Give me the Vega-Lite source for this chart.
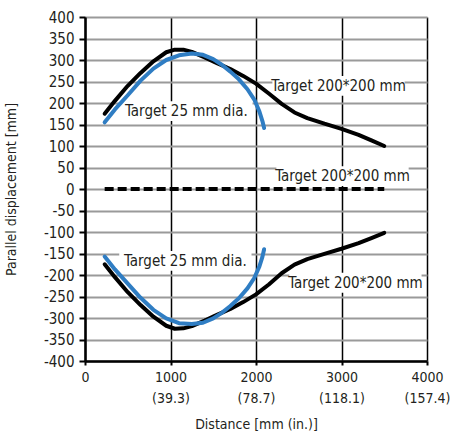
{
  "$schema": "https://vega.github.io/schema/vega-lite/v6.json",
  "width": 342,
  "height": 344,
  "padding": {"left": 4, "top": 10, "right": 0, "bottom": 0},
  "background": "white",
  "config": {
    "font": "DejaVu Sans Condensed, sans-serif",
    "view": {"stroke": null},
    "axis": {"labelFont": "DejaVu Sans Condensed, sans-serif", "titleFont": "DejaVu Sans Condensed, sans-serif", "labelFontSize": 15, "titleFontSize": 14, "labelColor": "#231f20", "titleColor": "#231f20", "titleFontWeight": "normal"}
  },
  "datasets": {
    "curves": [
      {"curve": "black_up", "o": 1, "x": 230, "y": 175},
      {"curve": "black_up", "o": 2, "x": 350, "y": 205},
      {"curve": "black_up", "o": 3, "x": 500, "y": 240},
      {"curve": "black_up", "o": 4, "x": 650, "y": 270},
      {"curve": "black_up", "o": 5, "x": 800, "y": 297},
      {"curve": "black_up", "o": 6, "x": 950, "y": 318},
      {"curve": "black_up", "o": 7, "x": 1050, "y": 324},
      {"curve": "black_up", "o": 8, "x": 1150, "y": 324},
      {"curve": "black_up", "o": 9, "x": 1250, "y": 319},
      {"curve": "black_up", "o": 10, "x": 1400, "y": 306},
      {"curve": "black_up", "o": 11, "x": 1550, "y": 292},
      {"curve": "black_up", "o": 12, "x": 1700, "y": 279},
      {"curve": "black_up", "o": 13, "x": 1850, "y": 263},
      {"curve": "black_up", "o": 14, "x": 2000, "y": 245},
      {"curve": "black_up", "o": 15, "x": 2150, "y": 222},
      {"curve": "black_up", "o": 16, "x": 2300, "y": 198},
      {"curve": "black_up", "o": 17, "x": 2450, "y": 178},
      {"curve": "black_up", "o": 18, "x": 2600, "y": 165},
      {"curve": "black_up", "o": 19, "x": 2800, "y": 152},
      {"curve": "black_up", "o": 20, "x": 3000, "y": 140},
      {"curve": "black_up", "o": 21, "x": 3200, "y": 126},
      {"curve": "black_up", "o": 22, "x": 3350, "y": 113},
      {"curve": "black_up", "o": 23, "x": 3500, "y": 100},
      {"curve": "black_dn", "o": 1, "x": 230, "y": -175},
      {"curve": "black_dn", "o": 2, "x": 350, "y": -205},
      {"curve": "black_dn", "o": 3, "x": 500, "y": -240},
      {"curve": "black_dn", "o": 4, "x": 650, "y": -270},
      {"curve": "black_dn", "o": 5, "x": 800, "y": -297},
      {"curve": "black_dn", "o": 6, "x": 950, "y": -318},
      {"curve": "black_dn", "o": 7, "x": 1050, "y": -325},
      {"curve": "black_dn", "o": 8, "x": 1150, "y": -324},
      {"curve": "black_dn", "o": 9, "x": 1250, "y": -319},
      {"curve": "black_dn", "o": 10, "x": 1400, "y": -306},
      {"curve": "black_dn", "o": 11, "x": 1550, "y": -292},
      {"curve": "black_dn", "o": 12, "x": 1700, "y": -279},
      {"curve": "black_dn", "o": 13, "x": 1850, "y": -263},
      {"curve": "black_dn", "o": 14, "x": 2000, "y": -245},
      {"curve": "black_dn", "o": 15, "x": 2150, "y": -222},
      {"curve": "black_dn", "o": 16, "x": 2300, "y": -196},
      {"curve": "black_dn", "o": 17, "x": 2450, "y": -176},
      {"curve": "black_dn", "o": 18, "x": 2600, "y": -163},
      {"curve": "black_dn", "o": 19, "x": 2800, "y": -151},
      {"curve": "black_dn", "o": 20, "x": 3000, "y": -139},
      {"curve": "black_dn", "o": 21, "x": 3200, "y": -126},
      {"curve": "black_dn", "o": 22, "x": 3350, "y": -114},
      {"curve": "black_dn", "o": 23, "x": 3500, "y": -102},
      {"curve": "blue_up", "o": 1, "x": 230, "y": 155},
      {"curve": "blue_up", "o": 2, "x": 350, "y": 185},
      {"curve": "blue_up", "o": 3, "x": 500, "y": 218},
      {"curve": "blue_up", "o": 4, "x": 650, "y": 252},
      {"curve": "blue_up", "o": 5, "x": 800, "y": 280},
      {"curve": "blue_up", "o": 6, "x": 950, "y": 300},
      {"curve": "blue_up", "o": 7, "x": 1100, "y": 311},
      {"curve": "blue_up", "o": 8, "x": 1250, "y": 315},
      {"curve": "blue_up", "o": 9, "x": 1380, "y": 312},
      {"curve": "blue_up", "o": 10, "x": 1500, "y": 302},
      {"curve": "blue_up", "o": 11, "x": 1600, "y": 289},
      {"curve": "blue_up", "o": 12, "x": 1700, "y": 273},
      {"curve": "blue_up", "o": 13, "x": 1800, "y": 255},
      {"curve": "blue_up", "o": 14, "x": 1900, "y": 232},
      {"curve": "blue_up", "o": 15, "x": 1980, "y": 208},
      {"curve": "blue_up", "o": 16, "x": 2040, "y": 180},
      {"curve": "blue_up", "o": 17, "x": 2075, "y": 158},
      {"curve": "blue_up", "o": 18, "x": 2095, "y": 142},
      {"curve": "blue_dn", "o": 1, "x": 230, "y": -157},
      {"curve": "blue_dn", "o": 2, "x": 350, "y": -187},
      {"curve": "blue_dn", "o": 3, "x": 500, "y": -220},
      {"curve": "blue_dn", "o": 4, "x": 650, "y": -253},
      {"curve": "blue_dn", "o": 5, "x": 800, "y": -281},
      {"curve": "blue_dn", "o": 6, "x": 950, "y": -301},
      {"curve": "blue_dn", "o": 7, "x": 1100, "y": -312},
      {"curve": "blue_dn", "o": 8, "x": 1250, "y": -314},
      {"curve": "blue_dn", "o": 9, "x": 1380, "y": -311},
      {"curve": "blue_dn", "o": 10, "x": 1500, "y": -301},
      {"curve": "blue_dn", "o": 11, "x": 1600, "y": -288},
      {"curve": "blue_dn", "o": 12, "x": 1700, "y": -272},
      {"curve": "blue_dn", "o": 13, "x": 1800, "y": -254},
      {"curve": "blue_dn", "o": 14, "x": 1900, "y": -231},
      {"curve": "blue_dn", "o": 15, "x": 1980, "y": -207},
      {"curve": "blue_dn", "o": 16, "x": 2040, "y": -180},
      {"curve": "blue_dn", "o": 17, "x": 2075, "y": -158},
      {"curve": "blue_dn", "o": 18, "x": 2095, "y": -140},
      {"curve": "zero", "o": 1, "x": 230, "y": 0},
      {"curve": "zero", "o": 2, "x": 3500, "y": 0}
    ],
    "labels": [
      {"label": "Target 25 mm dia.", "x": 1186, "y": 181},
      {"label": "Target 200*200 mm", "x": 2965, "y": 240},
      {"label": "Target 200*200 mm", "x": 3012, "y": 30},
      {"label": "Target 25 mm dia.", "x": 1174, "y": -167},
      {"label": "Target 200*200 mm", "x": 3163, "y": -218}
    ]
  },
  "encoding": {
    "x": {
      "field": "x", "type": "quantitative",
      "scale": {"domain": [0, 4000], "nice": false, "zero": false},
      "axis": {
        "title": "Distance [mm (in.)]",
        "values": [0, 1000, 2000, 3000, 4000],
        "labelExpr": "datum.value == 0 ? '0' : datum.value == 1000 ? ['1000', '(39.3)'] : datum.value == 2000 ? ['2000', '(78.7)'] : datum.value == 3000 ? ['3000', '(118.1)'] : ['4000', '(157.4)']",
        "labelFontSize": 14,
        "labelLineHeight": 21,
        "labelFlush": false,
        "grid": true, "gridColor": "#000", "gridWidth": 1.5, "gridOpacity": 1,
        "domainColor": "#000", "domainWidth": 2.5,
        "tickColor": "#000", "tickWidth": 2, "tickSize": 4,
        "labelPadding": 5, "titlePadding": 12
      }
    },
    "y": {
      "field": "y", "type": "quantitative",
      "scale": {"domain": [-400, 400], "nice": false},
      "axis": {
        "title": "Parallel displacement [mm]",
        "values": [-400, -350, -300, -250, -200, -150, -100, -50, 0, 50, 100, 150, 200, 250, 300, 350, 400],
        "labelExpr": "'' + datum.value",
        "grid": true, "gridColor": "#9a9a9a", "gridWidth": 2, "gridOpacity": 1,
        "domainColor": "#000", "domainWidth": 2.5,
        "tickColor": "#000", "tickWidth": 2, "tickSize": 6,
        "labelPadding": 5, "titlePadding": 25
      }
    }
  },
  "layer": [
    {
      "data": {"name": "labels"},
      "mark": {"type": "point", "shape": "M-1,-0.15H1V0.15H-1Z", "filled": true, "color": "white", "opacity": 1, "size": 17500}
    },
    {
      "data": {"name": "curves"},
      "transform": [{"filter": "datum.curve == 'black_up' || datum.curve == 'black_dn'"}],
      "mark": {"type": "line", "color": "#000", "strokeWidth": 4, "strokeCap": "round", "strokeJoin": "round"},
      "encoding": {"detail": {"field": "curve"}, "order": {"field": "o"}}
    },
    {
      "data": {"name": "curves"},
      "transform": [{"filter": "datum.curve == 'zero'"}],
      "mark": {"type": "line", "color": "#000", "strokeWidth": 4, "strokeDash": [9, 4]},
      "encoding": {"order": {"field": "o"}}
    },
    {
      "data": {"name": "curves"},
      "transform": [{"filter": "datum.curve == 'blue_up' || datum.curve == 'blue_dn'"}],
      "mark": {"type": "line", "color": "#2f7dc3", "strokeWidth": 4, "strokeCap": "round", "strokeJoin": "round"},
      "encoding": {"detail": {"field": "curve"}, "order": {"field": "o"}}
    },
    {
      "data": {"name": "labels"},
      "mark": {"type": "text", "fontSize": 15, "color": "#231f20", "font": "DejaVu Sans Condensed, sans-serif", "baseline": "middle", "align": "center"},
      "encoding": {"text": {"field": "label"}}
    }
  ]
}
